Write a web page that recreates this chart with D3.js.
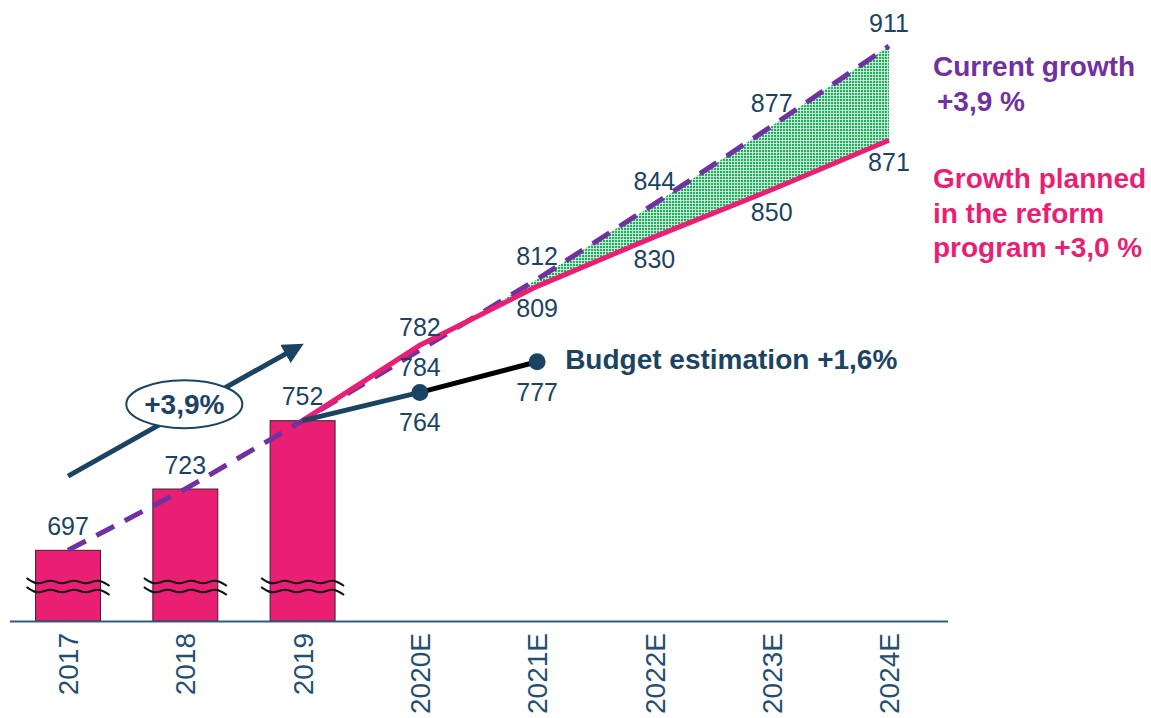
<!DOCTYPE html>
<html>
<head>
<meta charset="utf-8">
<script src="https://cdn.jsdelivr.net/npm/d3@7"></script>
<style>
  body { margin: 0; background: #fff; }
  text { font-family: "Liberation Sans", Arial, sans-serif; }
</style>
</head>
<body>
<div id="chart"></div>
<script>
// data
var years = ["2017", "2018", "2019", "2020E", "2021E", "2022E", "2023E", "2024E"];
var barYears = ["2017", "2018", "2019"];
var barValues = [697, 723, 752];
var currentValues = [697, 723, 752, 782, 812, 844, 877, 911];          // +3,9 %
var plannedYears = ["2019", "2020E", "2021E", "2022E", "2023E", "2024E"];
var plannedValues = [752, 784, 809, 830, 850, 871];                     // +3,0 %
var budgetYears = ["2019", "2020E", "2021E"];
var budgetValues = [752, 764, 777];                                     // +1,6 %

var W = 1151, H = 718;
var pink = "#ea1f74", purple = "#7231a0", navy = "#1b4462", green = "#1fae5e";

var svg = d3.select("#chart").append("svg")
  .attr("width", W).attr("height", H);

// scales
var x = d3.scaleBand()
  .domain(years)
  .range([9.4, 947.6])
  .paddingInner(0.446)
  .paddingOuter(0.223);
var cx = function(d) { return x(d) + x.bandwidth() / 2; };

var y = d3.scaleLinear()
  .domain([667, 911])
  .range([621, 46]);

// texture for the gap area
var defs = svg.append("defs");
var pat = defs.append("pattern")
  .attr("id", "dots").attr("patternUnits", "userSpaceOnUse")
  .attr("width", 3).attr("height", 3);
pat.append("rect").attr("width", 3).attr("height", 3).attr("fill", "#e6f6ec");
pat.append("rect").attr("width", 2.2).attr("height", 2.2).attr("fill", green);

// bars
svg.selectAll(".bar")
  .data(barYears)
  .enter().append("rect")
    .attr("class", "bar")
    .attr("x", function(d) { return x(d); })
    .attr("width", x.bandwidth())
    .attr("y", function(d, i) { return y(barValues[i]); })
    .attr("height", function(d, i) { return y(667) - y(barValues[i]); })
    .attr("fill", pink)
    .attr("stroke", "#3a2030")
    .attr("stroke-width", 1);

// break marks on the bars (two wavy lines)
var wave = d3.line().curve(d3.curveBasis);
barYears.forEach(function(d) {
  [582, 591].forEach(function(yy) {
    var pts = [];
    var x0 = x(d) - 9, x1 = x(d) + x.bandwidth() + 9;
    var n = 7;
    for (var k = 0; k <= n; k++) {
      pts.push([x0 + (x1 - x0) * k / n, yy + (k % 2 ? 4 : -4)]);
    }
    svg.append("path")
      .attr("d", wave(pts))
      .attr("fill", "none")
      .attr("stroke", "#111")
      .attr("stroke-width", 2);
  });
});

// green area between current and planned growth
var futureYears = plannedYears.slice(1);
var pv = plannedValues.slice(1);
var cv = currentValues.slice(3);
// where the two lines cross between 2020E and 2021E
var t = (pv[0] - cv[0]) / ((cv[1] - cv[0]) - (pv[1] - pv[0]));
var areaPts = [{ x: cx(futureYears[0]) + t * x.step(), lo: pv[0] + t * (pv[1] - pv[0]), hi: cv[0] + t * (cv[1] - cv[0]) }];
for (var i = 1; i < futureYears.length; i++) {
  areaPts.push({ x: cx(futureYears[i]), lo: pv[i], hi: cv[i] });
}
svg.append("path")
  .datum(areaPts)
  .attr("fill", "url(#dots)")
  .attr("d", d3.area()
    .x(function(d) { return d.x; })
    .y0(function(d) { return y(d.lo); })
    .y1(function(d) { return y(d.hi); }));

// current growth (dashed purple)
var line = d3.line()
  .x(function(d) { return cx(d[0]); })
  .y(function(d) { return y(d[1]); });

svg.append("path")
  .datum(d3.zip(years, currentValues))
  .attr("fill", "none")
  .attr("stroke", purple)
  .attr("stroke-width", 5)
  .attr("stroke-dasharray", "20,12")
  .attr("d", line);

// planned growth (pink)
svg.append("path")
  .datum(d3.zip(plannedYears, plannedValues))
  .attr("fill", "none")
  .attr("stroke", pink)
  .attr("stroke-width", 5)
  .attr("d", line);

// budget estimation
var bud = d3.zip(budgetYears, budgetValues);
svg.append("path")
  .datum(bud.slice(0, 2))
  .attr("fill", "none").attr("stroke", navy).attr("stroke-width", 5)
  .attr("d", line);
svg.append("path")
  .datum(bud.slice(1))
  .attr("fill", "none").attr("stroke", "#000").attr("stroke-width", 5)
  .attr("d", line);
svg.selectAll(".dot")
  .data(bud.slice(1))
  .enter().append("circle")
    .attr("cx", function(d) { return cx(d[0]); })
    .attr("cy", function(d) { return y(d[1]); })
    .attr("r", 8.5)
    .attr("fill", navy);

// value labels
function labels(ys, vs, dy, cls) {
  svg.selectAll("." + cls)
    .data(d3.zip(ys, vs))
    .enter().append("text")
      .attr("class", cls)
      .attr("x", function(d) { return cx(d[0]); })
      .attr("y", function(d) { return y(d[1]) + dy; })
      .attr("dy", "0.35em")
      .attr("text-anchor", "middle")
      .attr("font-size", 25)
      .attr("fill", navy)
      .text(function(d) { return d[1]; });
}
labels(barYears, barValues, -24, "lb");
labels(years.slice(3), currentValues.slice(3), -23, "lc");
labels(plannedYears.slice(1), plannedValues.slice(1), 22, "lp");
labels(budgetYears.slice(1), budgetValues.slice(1), 30, "lbud");

// x axis
var xAxis = svg.append("g")
  .attr("transform", "translate(0," + y(667) + ")")
  .call(d3.axisBottom(x).tickSize(0).tickSizeOuter(0));
xAxis.select(".domain").attr("stroke", "#2d5c7c").attr("stroke-width", 2);
xAxis.selectAll("text")
  .attr("transform", "rotate(-90)")
  .attr("text-anchor", "end")
  .attr("x", -12)
  .attr("y", 0)
  .attr("dy", "0.36em")
  .attr("font-size", 28)
  .attr("font-family", "Liberation Sans, Arial, sans-serif")
  .attr("fill", "#244f70");

// trend arrow with +3,9% bubble
defs.append("marker")
  .attr("id", "head").attr("viewBox", "0 0 10 10")
  .attr("refX", 5).attr("refY", 5)
  .attr("markerWidth", 4.2).attr("markerHeight", 4.2)
  .attr("orient", "auto")
  .append("path").attr("d", "M0,0 L10,5 L0,10 Z").attr("fill", navy);

var ax0 = cx("2017"), ay0 = y(728.5), ax1 = cx("2019") - 8, ay1 = y(782.5);
svg.append("line")
  .attr("x1", ax0).attr("y1", ay0).attr("x2", ax1).attr("y2", ay1)
  .attr("stroke", navy).attr("stroke-width", 5)
  .attr("marker-end", "url(#head)");

var ex = cx("2018") - 1, ey = y(759);
svg.append("ellipse")
  .attr("cx", ex).attr("cy", ey).attr("rx", 58).attr("ry", 24)
  .attr("fill", "#fff").attr("stroke", navy).attr("stroke-width", 2);
svg.append("text")
  .attr("x", ex).attr("y", ey).attr("dy", "0.36em")
  .attr("text-anchor", "middle")
  .attr("font-size", 28).attr("font-weight", "bold")
  .attr("fill", navy)
  .text("+3,9%");

// series labels
svg.append("text")
  .attr("x", cx("2021E") + 28).attr("y", y(777) - 3).attr("dy", "0.36em")
  .attr("font-size", 28).attr("font-weight", "bold").attr("fill", navy)
  .text("Budget estimation +1,6%");

var legX = cx("2024E") + 44;
var cur = svg.append("text")
  .attr("font-size", 28).attr("font-weight", "bold").attr("fill", purple);
cur.append("tspan").attr("x", legX).attr("y", 76).text("Current growth");
cur.append("tspan").attr("x", legX + 4).attr("y", 111).text("+3,9 %");

var pl = svg.append("text")
  .attr("font-size", 28).attr("font-weight", "bold").attr("fill", pink);
pl.append("tspan").attr("x", legX).attr("y", 188).text("Growth planned");
pl.append("tspan").attr("x", legX).attr("y", 223).text("in the reform");
pl.append("tspan").attr("x", legX).attr("y", 257).text("program +3,0 %");
</script>
</body>
</html>
